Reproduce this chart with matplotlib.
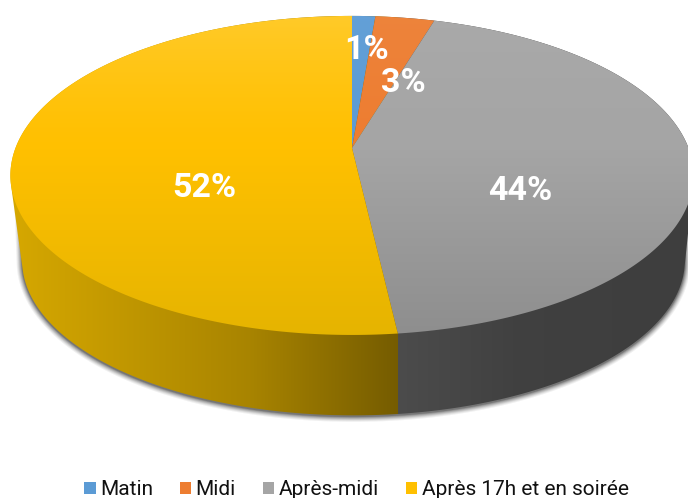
import numpy as np
import matplotlib
matplotlib.use("Agg")
import matplotlib.pyplot as plt
from matplotlib.patches import Polygon, Patch, Rectangle

categories = ["Matin", "Midi", "Après-midi", "Après 17h et en soirée"]
values = [1.3, 3.3, 43.6, 51.8]
labels = ["1%", "3%", "44%", "52%"]
colors = ["#5B9BD5", "#ED7D31", "#A5A5A5", "#FFC000"]

W, H = 688, 498
fig = plt.figure(figsize=(W / 100, H / 100), dpi=100)
ax = fig.add_axes([0, 0, 1, 1])
ax.set_xlim(0, W)
ax.set_ylim(H, 0)
ax.axis("off")

CX, CY = 352.0, 148.0
K, A, B = 0.172, 154.8, 336.5
DROP, SHRINK, SHIFT = 86.0, 0.97, 1.5


def project(theta, lower=False):
    u, v = np.sin(theta), np.cos(theta)
    d = 1 + K * v
    s = SHRINK if lower else 1.0
    dx = SHIFT if lower else 0.0
    dy = DROP if lower else 0.0
    return np.column_stack([CX + dx + s * B * u / d, CY + dy - s * A * v / d])


def rgb(c):
    return np.array(matplotlib.colors.to_rgb(c))


def top_image(c):
    base = rgb(c)
    light = 0.16 if c == "#FFC000" else 0.05
    dark = 0.10 if c == "#FFC000" else 0.14
    low_color = rgb("#FFC800") if c == "#FFC000" else base
    img = np.zeros((H, 1, 3))
    for i in range(H):
        y = i + 0.5
        if y < 150:
            t = np.clip((150 - y) / 134, 0, 1) ** 1.3 * light
            img[i, 0] = base * (1 - t) + t
        else:
            t = np.clip((y - 150) / 185, 0, 1)
            img[i, 0] = (base * (1 - t) + low_color * t) * (1 - t * dark)
    return img


def hull_of(points):
    return points[np.argmax(points @ vecs.T, axis=0)]


full = np.linspace(0, 2 * np.pi, 500, endpoint=False)
dirs = np.linspace(0, 2 * np.pi, 720, endpoint=False)
vecs = np.column_stack([np.cos(dirs), np.sin(dirs)])
rim = project(full)
low = project(full, lower=True)
body = hull_of(np.vstack([rim, low]))

# soft shadow around the lower part of the pie body
inner = rim.copy()
inner[:, 0] = CX + (inner[:, 0] - CX) * 0.975
shadow_hull = hull_of(np.vstack([inner, low]))
clip = Rectangle((0, 190), W, H - 190, transform=ax.transData)
for grow, alpha in [(5.5, 0.07), (4.5, 0.09), (3.5, 0.13), (2.5, 0.17), (1.5, 0.22), (0.7, 0.28)]:
    pts = shadow_hull + grow * vecs + np.array([0.0, 1.0])
    shadow = Polygon(pts, closed=True, fc="#303030", ec="none", alpha=alpha, zorder=1)
    ax.add_patch(shadow)
    shadow.set_clip_path(clip)

bounds = 2 * np.pi * np.cumsum([0] + values) / sum(values)

# side wall: one body shape, split where the last two slices meet
seam_x = project(np.array([bounds[3]]))[0, 0]
side_stops_yellow = [(10, 0.84), (120, 0.76), (250, 0.66), (seam_x, 0.46)]
side_stops_gray = [(seam_x, 0.46), (520, 0.39), (688, 0.375)]
xs = np.arange(W) + 0.5
wall = np.zeros((1, W, 3))
left = xs < seam_x
wall[0, left] = rgb("#FFC800") * np.interp(xs[left], *zip(*side_stops_yellow))[:, None]
wall[0, ~left] = rgb(colors[2]) * np.interp(xs[~left], *zip(*side_stops_gray))[:, None]
body_patch = Polygon(body, closed=True, fc="none", ec="none", zorder=2)
ax.add_patch(body_patch)
im = ax.imshow(wall, extent=(0, W, H, 0), aspect="auto", interpolation="nearest", zorder=2)
im.set_clip_path(body_patch)

for i, c in enumerate(colors):
    th = np.linspace(bounds[i], bounds[i + 1], 240)
    poly = np.vstack([[CX, CY], project(th)])
    patch = Polygon(poly, closed=True, fc="none", ec="none", zorder=3)
    ax.add_patch(patch)
    im = ax.imshow(top_image(c), extent=(0, W, H, 0), aspect="auto",
                   interpolation="bilinear", zorder=3)
    im.set_clip_path(patch)

ax.set_xlim(0, W)
ax.set_ylim(H, 0)

label_xy = [(367, 50), (403, 83), (520, 190.5), (204, 187.5)]
for (x, y), s in zip(label_xy, labels):
    ax.text(x, y, s, color="white", fontsize=24.5, fontweight="bold", family="Roboto",
            ha="center", va="center", zorder=5)

handles = [Patch(fc=c, ec="none") for c in colors]
leg = ax.legend(handles, categories, ncol=4, loc="lower center",
                bbox_to_anchor=(0.518, -0.032), frameon=False,
                prop={"family": "Roboto", "size": 15},
                handlelength=0.55, handleheight=0.55, handletextpad=0.2,
                columnspacing=1.3, labelcolor="#111111", borderpad=0.2)

fig.savefig("out.png", dpi=100)
